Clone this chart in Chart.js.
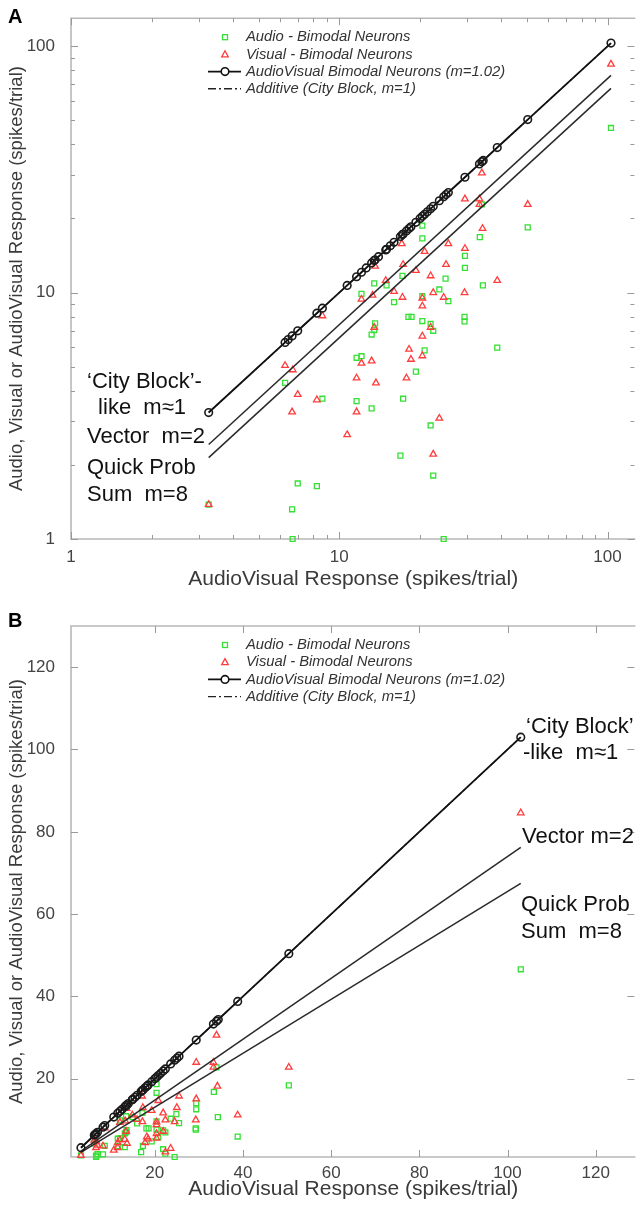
<!DOCTYPE html>
<html>
<head>
<meta charset="utf-8">
<script src="https://cdn.jsdelivr.net/npm/chart.js@4.4.1/dist/chart.umd.min.js"></script>
<style>
  body { margin: 0; background: #fff; }
  #wrap { position: relative; width: 641px; height: 1207px; overflow: hidden; }
  canvas { position: absolute; left: 0; }
  #panelA { top: 0; }
  #panelB { top: 600px; }
</style>
</head>
<body>
<div id="wrap">
  <canvas id="panelA" width="641" height="600"></canvas>
  <canvas id="panelB" width="641" height="607"></canvas>
</div>
<script>
// AudioVisual response of each bimodal neuron (spikes/trial), plotted on the diagonal
const avResp = [3.26, 6.28, 6.45, 6.67, 7.0, 8.25, 8.65, 10.7, 11.6, 12.1, 12.6, 13.2, 13.5, 13.6, 14.0,
  14.9, 15.0, 15.5, 16.0, 16.9, 17.2, 17.3, 17.8, 18.2, 18.5, 19.3, 20.0, 20.4, 20.8, 21.3, 21.9,
  22.4, 23.6, 24.5, 25.0, 25.5, 29.4, 33.3, 34.0, 34.4, 38.8, 50.4, 103];

// Audio alone (green squares)
const audioX = [3.26, 6.28, 6.67, 6.7, 7.0, 8.25, 8.65, 11.6, 11.6, 12.1, 12.1, 13.2, 13.2, 13.5, 13.5, 13.6,
  15.0, 16.0, 16.9, 17.2, 17.3, 18.1, 18.6, 19.3, 20.4, 20.4, 20.4, 20.4, 20.8, 21.9, 21.9, 22.4, 22.4,
  23.6, 24.5, 24.9, 25.5, 29.3, 29.3, 29.4, 29.4, 33.4, 34.0, 34.3, 38.8, 50.4, 103];
const audioY = [1.38, 4.3, 1.32, 1.0, 1.68, 1.64, 3.71, 5.44, 3.63, 5.52, 9.88, 6.76, 3.39, 10.9, 7.05, 7.5,
  10.7, 9.15, 2.18, 11.7, 3.71, 7.97, 7.97, 4.78, 18.7, 16.6, 9.67, 7.67, 5.83, 7.46, 2.89, 7.0, 1.81,
  10.3, 1.0, 11.4, 9.23, 7.97, 7.64, 14.1, 12.6, 16.8, 22.8, 10.7, 5.98, 18.4, 46.6];

// Visual alone (red triangles)
const visualX = [3.26, 6.28, 6.67, 6.71, 7.0, 8.25, 8.65, 10.7, 11.6, 11.6, 12.1, 12.1, 13.2, 13.3, 13.5,
  13.6, 13.7, 14.9, 16.0, 17.1, 17.2, 17.3, 17.8, 18.2, 18.5, 19.3, 20.4, 20.4, 20.4, 20.4, 20.8, 21.9,
  21.9, 22.4, 22.4, 23.6, 24.5, 25.0, 25.5, 29.3, 29.4, 29.4, 33.3, 33.3, 34.0, 34.2, 38.8, 50.4, 103];
const visualY = [1.38, 5.06, 3.28, 4.86, 3.86, 3.67, 8.05, 2.65, 4.5, 3.28, 9.4, 5.17, 5.28, 9.76, 7.23,
  12.8, 4.3, 11.2, 10.1, 15.8, 9.57, 13.0, 4.5, 5.89, 5.36, 12.3, 9.5, 8.82, 6.66, 5.54, 14.7, 11.7,
  7.23, 10.0, 2.21, 3.09, 9.57, 13.0, 15.8, 10.0, 15.1, 24.0, 24.0, 22.8, 30.6, 18.2, 11.2, 22.8, 84.6];

// model lines: start and end points
const modelX = [3.26, 103];
const additiveY = [3.26, 103];
const vectorY = [2.42, 76.2];
const quickY = [2.14, 67.5];

const legendLabels = ['Audio - Bimodal Neurons', 'Visual - Bimodal Neurons',
  'AudioVisual Bimodal Neurons (m=1.02)', 'Additive (City Block, m=1)'];

const logTicks = [1, 2, 3, 4, 5, 6, 7, 8, 9, 10, 20, 30, 40, 50, 60, 70, 80, 90, 100];
const logLabels = [1, 10, 100];
const linTicks = [20, 40, 60, 80, 100, 120];

const xTitle = 'AudioVisual Response (spikes/trial)';
const yTitle = 'Audio, Visual or AudioVisual Response (spikes/trial)';

Chart.defaults.font.family = "'Liberation Sans', Arial, sans-serif";
Chart.defaults.color = '#444';

const GREEN = '#33e033';
const RED = '#ff3c3c';
const FRAME = '#b8b8b8';

function pairs(xs, ys) {
  return xs.map((x, i) => ({ x: x, y: ys[i] }));
}

function makeDatasets() {
  return [
    {
      data: avResp.map((v) => ({ x: v, y: v })),
      showLine: true,
      borderColor: '#111',
      borderWidth: 1.9,
      pointStyle: 'circle',
      pointRadius: 3.8,
      pointBorderWidth: 1.6,
      pointBorderColor: '#1a1a1a',
      pointBackgroundColor: 'rgba(0,0,0,0)',
      order: 0,
      clip: false,
    },
    {
      data: pairs(modelX, additiveY),
      showLine: true,
      borderColor: '#222',
      borderWidth: 1.2,
      borderDash: [8, 3, 2, 3],
      pointRadius: 0,
      order: 1,
    },
    {
      data: pairs(modelX, vectorY),
      showLine: true,
      borderColor: '#2a2a2a',
      borderWidth: 1.5,
      pointRadius: 0,
      order: 2,
    },
    {
      data: pairs(modelX, quickY),
      showLine: true,
      borderColor: '#2a2a2a',
      borderWidth: 1.5,
      pointRadius: 0,
      order: 2,
    },
    {
      data: pairs(visualX, visualY),
      pointStyle: 'triangle',
      pointRadius: 3.8,
      pointBorderWidth: 1.3,
      pointBorderColor: RED,
      pointBackgroundColor: 'rgba(0,0,0,0)',
      order: 3,
      clip: false,
    },
    {
      data: pairs(audioX, audioY),
      pointStyle: 'rect',
      pointRadius: 3.5,
      pointBorderWidth: 1.3,
      pointBorderColor: GREEN,
      pointBackgroundColor: 'rgba(0,0,0,0)',
      order: 4,
      clip: false,
    },
  ];
}

// frame with inward ticks (left, bottom, top; right side is cut by the crop)
const frameTicks = {
  id: 'frameTicks',
  beforeDatasetsDraw(chart) {
    const { ctx, chartArea: a, scales } = chart;
    const x = scales.x;
    const y = scales.y;
    ctx.save();
    ctx.strokeStyle = FRAME;
    ctx.lineWidth = 1.6;
    ctx.beginPath();
    ctx.moveTo(a.right, a.top);
    ctx.lineTo(a.left, a.top);
    ctx.lineTo(a.left, a.bottom);
    ctx.lineTo(a.right, a.bottom);
    ctx.stroke();
    ctx.lineWidth = 1;
    ctx.strokeStyle = '#999';
    ctx.beginPath();
    x.ticks.forEach((t) => {
      const px = Math.round(x.getPixelForValue(t.value)) + 0.5;
      const len = t.major ? 7 : 4;
      ctx.moveTo(px, a.bottom);
      ctx.lineTo(px, a.bottom - len);
      ctx.moveTo(px, a.top);
      ctx.lineTo(px, a.top + len);
    });
    y.ticks.forEach((t) => {
      const py = Math.round(y.getPixelForValue(t.value)) + 0.5;
      const len = t.major ? 7 : 4;
      ctx.moveTo(a.left, py);
      ctx.lineTo(a.left + len, py);
      ctx.moveTo(a.right - 1, py);
      ctx.lineTo(a.right - 1 - len, py);
    });
    ctx.stroke();
    ctx.restore();
  },
};

// panel letter, in-plot legend and the model annotations
const extras = {
  id: 'extras',
  afterDraw(chart, args, opts) {
    const { ctx, chartArea: a } = chart;
    ctx.save();
    ctx.fillStyle = '#000';
    ctx.font = "bold 20px 'Liberation Sans', Arial, sans-serif";
    ctx.textBaseline = 'middle';
    ctx.fillText(opts.letter, opts.letterX, opts.letterY);

    // legend
    const mx = 225;
    const tx = 246;
    ctx.font = "italic 14.8px 'Liberation Sans', Arial, sans-serif";
    legendLabels.forEach((label, i) => {
      const ly = a.top + 19 + i * 17.2;
      ctx.fillStyle = '#333';
      ctx.fillText(label, tx, ly);
      ctx.lineWidth = 1.3;
      if (i === 0) {
        ctx.strokeStyle = GREEN;
        ctx.strokeRect(mx - 2.5, ly - 2.5, 5, 5);
      } else if (i === 1) {
        ctx.strokeStyle = RED;
        ctx.beginPath();
        ctx.moveTo(mx, ly - 3.6);
        ctx.lineTo(mx + 3.3, ly + 2.5);
        ctx.lineTo(mx - 3.3, ly + 2.5);
        ctx.closePath();
        ctx.stroke();
      } else if (i === 2) {
        ctx.strokeStyle = '#111';
        ctx.lineWidth = 1.9;
        ctx.beginPath();
        ctx.moveTo(208, ly);
        ctx.lineTo(241, ly);
        ctx.stroke();
        ctx.lineWidth = 1.6;
        ctx.fillStyle = '#fff';
        ctx.beginPath();
        ctx.arc(mx, ly, 3.8, 0, Math.PI * 2);
        ctx.fill();
        ctx.stroke();
      } else {
        ctx.strokeStyle = '#222';
        ctx.lineWidth = 1.4;
        ctx.setLineDash([8, 3, 2, 3]);
        ctx.beginPath();
        ctx.moveTo(208, ly);
        ctx.lineTo(241, ly);
        ctx.stroke();
        ctx.setLineDash([]);
      }
    });

    // model annotations
    ctx.fillStyle = '#111';
    ctx.font = "22px 'Liberation Sans', Arial, sans-serif";
    opts.notes.forEach((n) => ctx.fillText(n.text, n.x, n.y));
    ctx.restore();
  },
};

function axisTitle(text, size, pad) {
  return { display: true, text: text, color: '#3a3a3a', font: { size: size }, padding: pad };
}

// Panel A: log-log
new Chart(document.getElementById('panelA').getContext('2d'), {
  type: 'scatter',
  data: { datasets: makeDatasets() },
  options: {
    responsive: false,
    animation: false,
    events: [],
    layout: { padding: { top: 8, right: 0, left: 0, bottom: 0 } },
    plugins: {
      legend: { display: false },
      tooltip: { enabled: false },
      extras: {
        letter: 'A', letterX: 8, letterY: 17,
        notes: [
          { text: '‘City Block’-', x: 87, y: 382 },
          { text: ' like  m≈1', x: 92, y: 408 },
          { text: 'Vector  m=2', x: 87, y: 437 },
          { text: 'Quick Prob', x: 87, y: 468 },
          { text: 'Sum  m=8', x: 87, y: 495 },
        ],
      },
    },
    scales: {
      x: {
        type: 'logarithmic',
        min: 1,
        max: 127,
        grid: { display: false },
        border: { display: false },
        afterBuildTicks: (s) => { s.ticks = logTicks.map((v) => ({ value: v, major: logLabels.includes(v) })); },
        afterFit: (s) => { s.height = 61; },
        ticks: {
          autoSkip: false, maxRotation: 0, padding: 0, color: '#444', font: { size: 17 },
          callback: (v) => (logLabels.includes(v) ? String(v) : ''),
        },
        title: axisTitle(xTitle, 21, { bottom: 8 }),
      },
      y: {
        type: 'logarithmic',
        min: 1,
        max: 130,
        grid: { display: false },
        border: { display: false },
        afterBuildTicks: (s) => { s.ticks = logTicks.map((v) => ({ value: v, major: logLabels.includes(v) })); },
        afterFit: (s) => { s.width = 71; },
        ticks: {
          autoSkip: false, padding: 8, color: '#444', font: { size: 17 },
          callback: (v) => (logLabels.includes(v) ? String(v) : ''),
        },
        title: axisTitle(yTitle, 18.5, { top: 6 }),
      },
    },
  },
  plugins: [frameTicks, extras],
});

// Panel B: linear
new Chart(document.getElementById('panelB').getContext('2d'), {
  type: 'scatter',
  data: { datasets: makeDatasets() },
  options: {
    responsive: false,
    animation: false,
    events: [],
    layout: { padding: { top: 26, right: 0, left: 0, bottom: 0 } },
    plugins: {
      legend: { display: false },
      tooltip: { enabled: false },
      extras: {
        letter: 'B', letterX: 8, letterY: 21,
        notes: [
          { text: '‘City Block’', x: 526, y: 127 },
          { text: '-like  m≈1', x: 523, y: 153 },
          { text: 'Vector m=2', x: 522, y: 237 },
          { text: 'Quick Prob', x: 521, y: 305 },
          { text: 'Sum  m=8', x: 521, y: 332 },
        ],
      },
    },
    scales: {
      x: {
        type: 'linear',
        min: 1,
        max: 129,
        grid: { display: false },
        border: { display: false },
        afterBuildTicks: (s) => { s.ticks = linTicks.map((v) => ({ value: v, major: true })); },
        afterFit: (s) => { s.height = 50; },
        ticks: { autoSkip: false, maxRotation: 0, padding: -2, color: '#444', font: { size: 17 } },
        title: axisTitle(xTitle, 21, { bottom: 5 }),
      },
      y: {
        type: 'linear',
        min: 1,
        max: 130,
        grid: { display: false },
        border: { display: false },
        afterBuildTicks: (s) => { s.ticks = linTicks.map((v) => ({ value: v, major: true })); },
        afterFit: (s) => { s.width = 71; },
        ticks: { autoSkip: false, padding: 8, color: '#444', font: { size: 17 } },
        title: axisTitle(yTitle, 18.5, { top: 6 }),
      },
    },
  },
  plugins: [frameTicks, extras],
});
</script>
</body>
</html>
